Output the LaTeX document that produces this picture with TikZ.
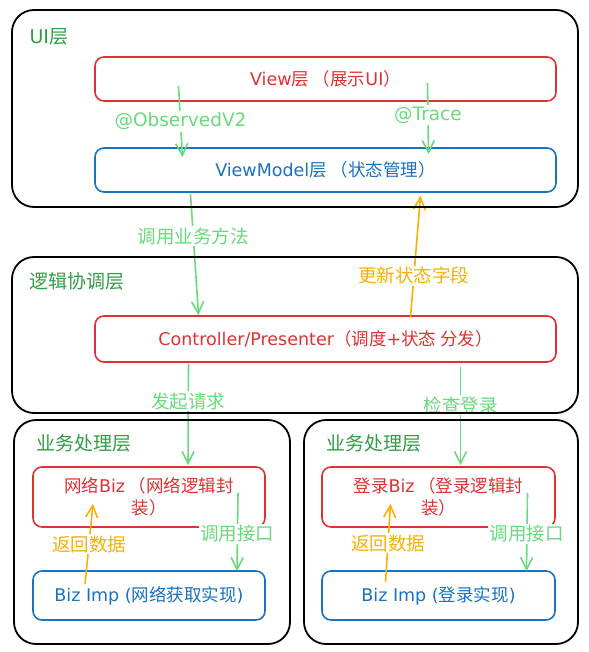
\documentclass[tikz,border=0pt]{standalone}
\usepackage{fontspec}
\setmainfont{Noto Sans CJK SC}
\newfontfamily\lat{DejaVu Sans}
\usepackage{xcolor}
\usepackage{tikz}
\usetikzlibrary{arrows.meta,positioning}
\definecolor{redc}{HTML}{E03131}
\definecolor{bluec}{HTML}{1971C2}
\definecolor{grnc}{HTML}{69DB7C}
\definecolor{darkg}{HTML}{2F9E44}
\definecolor{yelc}{HTML}{FAB005}
\tikzset{
  layer/.style={draw=black,line width=1.8pt,rounded corners=22pt,inner sep=0pt},
  rbox/.style={draw=redc,line width=1.6pt,rounded corners=9pt,text=redc,align=center,inner sep=0pt,font=\fontsize{17.5}{22}\selectfont},
  bbox/.style={draw=bluec,line width=1.6pt,rounded corners=9pt,text=bluec,align=center,inner sep=0pt,font=\fontsize{17.5}{22}\selectfont},
  ttl/.style={anchor=west,text=darkg,font=\fontsize{19}{22}\selectfont},
  garr/.style={-{Straight Barb[length=12pt,width=12pt]},line width=1.6pt,grnc},
  yarr/.style={-{Straight Barb[length=12pt,width=12pt]},line width=1.6pt,yelc},
  lbl/.style={fill=white,inner sep=1.5pt,font=\fontsize{18.5}{20}\selectfont}
}
\begin{document}
\begin{tikzpicture}[x=1pt,y=-1pt]
\useasboundingbox (0,0) rectangle (588,652);
% boxes
\node[rbox,minimum width=461pt,minimum height=44pt] (view) at (325.5,79) {{\lat View}层 （展示{\lat UI}）};
\node[bbox,minimum width=461pt,minimum height=44pt] (vm) at (325.5,170) {{\lat ViewModel}层 （状态管理）};
\node[rbox,minimum width=461pt,minimum height=46pt] (ctrl) at (325.5,339) {{\lat Controller/Presenter}（调度{\lat +}状态 分发）};
\node[rbox,minimum width=232pt,minimum height=60pt] (netbiz) at (149,497) {网络{\lat Biz} （网络逻辑封\\装）};
\node[bbox,minimum width=232pt,minimum height=49pt] (netimp) at (149,595.5) {{\lat Biz Imp (}网络获取实现{\lat )}};
\node[rbox,minimum width=233pt,minimum height=60pt] (loginbiz) at (438.5,497) {登录{\lat Biz} （登录逻辑封\\装）};
\node[bbox,minimum width=233pt,minimum height=49pt] (loginimp) at (438.5,595.5) {{\lat Biz Imp (}登录实现{\lat )}};
% arrows
\draw[garr] ([shift={(-147,-16)}]view.south) -- node[lbl]{\lat @ObservedV2} ([shift={(-143,10)}]vm.north);
\draw[garr] ([shift={(102,-19)}]view.south) -- node[lbl,pos=0.45]{\lat @Trace} ([shift={(103,7)}]vm.north);
\draw[garr] ([shift={(-135,1)}]vm.south) -- node[lbl,pos=0.35]{调用业务方法} ([shift={(-127,0)}]ctrl.north);
\draw[yarr] ([shift={(85,2)}]ctrl.north) -- node[lbl,pos=0.34]{更新状态字段} ([shift={(95,3)}]vm.south);
\draw[garr] ([shift={(-137,1)}]ctrl.south) -- node[lbl,pos=0.37]{发起请求} ([shift={(39,-1)}]netbiz.north);
\draw[garr] ([shift={(135,4)}]ctrl.south) -- node[lbl,pos=0.39]{检查登录} ([shift={(22,-1)}]loginbiz.north);
\draw[yarr] ([shift={(-64,14)}]netimp.north) -- node[lbl]{返回数据} ([shift={(-56,-24)}]netbiz.south);
\draw[garr] ([shift={(89,-35)}]netbiz.south) -- node[lbl,pos=0.52]{调用接口} ([shift={(88,1)}]netimp.north);
\draw[yarr] ([shift={(-53,12)}]loginimp.north) -- node[lbl]{返回数据} ([shift={(-48,-24)}]loginbiz.south);
\draw[garr] ([shift={(89,-35)}]loginbiz.south) -- node[lbl,pos=0.52]{调用接口} ([shift={(88,1)}]loginimp.north);
% layers
\node[layer,minimum width=566pt,minimum height=197pt] (uiL) at (295,108.5) {};
\node[layer,minimum width=566pt,minimum height=156pt] (logicL) at (295,335) {};
\node[layer,minimum width=276pt,minimum height=224pt] (netL) at (152,532) {};
\node[layer,minimum width=274pt,minimum height=224pt] (loginL) at (441,532) {};
\node[ttl] (uiT) at (26,37) {\lat UI\normalfont 层};
\node[ttl] (logicT) at (26,281) {逻辑协调层};
\node[ttl] (netT) at (33,443) {业务处理层};
\node[ttl] (loginT) at (323,443) {业务处理层};
\end{tikzpicture}
\end{document}
